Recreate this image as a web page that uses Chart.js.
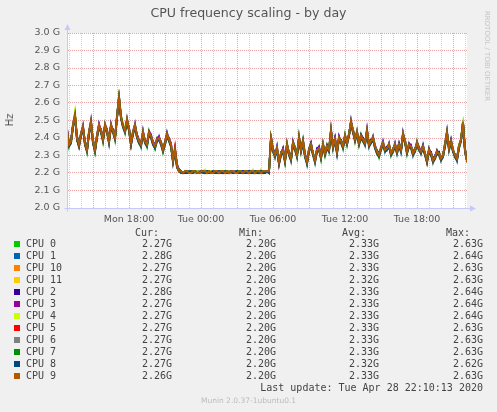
<!DOCTYPE html>
<html>
<head>
<meta charset="utf-8">
<script src="https://cdn.jsdelivr.net/npm/chart.js@4.4.1/dist/chart.umd.min.js"></script>
<style>
  body { margin: 0; background: #f0f0f0; }
  #wrap { position: relative; width: 497px; height: 412px; overflow: hidden; background: #f0f0f0; font-family: "DejaVu Sans", sans-serif; }
  #c { position: absolute; left: 0; top: 0; }
  .t { position: absolute; white-space: pre; line-height: 12px; }
  .mono { font-family: "DejaVu Sans Mono", monospace; font-size: 10px; color: #444; }
</style>
</head>
<body>
<div id="wrap"><canvas id="c" width="497" height="412"></canvas></div>
<script>
// munin cpu frequency graph — day view, 10 min samples from Mon 12:50 to Tue 22:10

/* ---------- DATA ---------- */
const seriesNames = ["CPU 0", "CPU 1", "CPU 10", "CPU 11", "CPU 2", "CPU 3", "CPU 4", "CPU 5", "CPU 6", "CPU 7", "CPU 8", "CPU 9"];
const seriesColors = ["#00cc00", "#0066b3", "#ff8000", "#ffcc00", "#330099", "#990099", "#ccff00", "#ff0000", "#808080", "#008f00", "#00487d", "#b35a00"];

const startHour = 12 + 50 / 60; // Mon 12:50, hours counted from Mon 00:00
const stepHours = 10 / 60;

// GHz, one row = 200 minutes
const cpu0 = [
  2.45,2.35,2.39,2.46,2.54,2.39,2.35,2.43,2.45,2.38,2.32,2.44,2.48,2.39,2.32,2.42,2.46,2.45,2.38,2.48,
  2.43,2.39,2.46,2.45,2.39,2.53,2.63,2.51,2.48,2.43,2.51,2.44,2.36,2.44,2.46,2.42,2.37,2.37,2.42,2.39,
  2.35,2.44,2.40,2.38,2.34,2.40,2.39,2.38,2.32,2.38,2.41,2.40,2.35,2.28,2.32,2.25,2.21,2.20,2.20,2.21,
  2.20,2.21,2.21,2.20,2.21,2.21,2.20,2.20,2.21,2.20,2.21,2.21,2.20,2.21,2.20,2.21,2.21,2.20,2.20,2.21,
  2.20,2.21,2.21,2.20,2.21,2.21,2.20,2.21,2.21,2.20,2.20,2.21,2.21,2.20,2.21,2.21,2.20,2.21,2.20,2.21,
  2.21,2.20,2.41,2.32,2.31,2.33,2.27,2.30,2.34,2.26,2.37,2.30,2.29,2.36,2.35,2.29,2.41,2.32,2.39,2.29,
  2.27,2.32,2.37,2.30,2.28,2.32,2.35,2.28,2.37,2.30,2.36,2.32,2.43,2.36,2.38,2.33,2.39,2.39,2.34,2.42,
  2.36,2.43,2.48,2.45,2.38,2.44,2.36,2.42,2.38,2.38,2.43,2.37,2.37,2.41,2.34,2.33,2.29,2.35,2.36,2.34,
  2.33,2.37,2.30,2.34,2.35,2.33,2.35,2.34,2.41,2.39,2.31,2.37,2.34,2.32,2.32,2.38,2.33,2.33,2.34,2.32,
  2.26,2.34,2.30,2.28,2.28,2.33,2.30,2.29,2.29,2.37,2.42,2.35,2.37,2.34,2.29,2.29,2.34,2.40,2.48,2.34,
  2.27];
const cpu1 = [
  2.43,2.37,2.37,2.48,2.52,2.41,2.37,2.41,2.47,2.36,2.34,2.42,2.50,2.37,2.34,2.40,2.48,2.43,2.40,2.46,
  2.45,2.37,2.48,2.43,2.41,2.51,2.64,2.53,2.46,2.45,2.49,2.46,2.38,2.42,2.48,2.40,2.39,2.35,2.44,2.37,
  2.37,2.42,2.42,2.36,2.36,2.38,2.41,2.36,2.34,2.36,2.43,2.38,2.37,2.26,2.34,2.23,2.22,2.21,2.20,2.20,
  2.21,2.21,2.20,2.21,2.20,2.21,2.21,2.20,2.21,2.21,2.21,2.20,2.21,2.21,2.20,2.20,2.21,2.21,2.20,2.21,
  2.21,2.21,2.20,2.21,2.21,2.21,2.20,2.20,2.21,2.21,2.20,2.21,2.20,2.21,2.21,2.20,2.21,2.21,2.21,2.20,
  2.20,2.22,2.39,2.34,2.29,2.35,2.25,2.32,2.32,2.28,2.35,2.32,2.27,2.38,2.33,2.31,2.39,2.34,2.37,2.31,
  2.25,2.34,2.35,2.32,2.26,2.34,2.33,2.30,2.35,2.32,2.34,2.34,2.45,2.34,2.40,2.31,2.41,2.37,2.36,2.40,
  2.38,2.41,2.50,2.43,2.40,2.42,2.38,2.40,2.40,2.36,2.45,2.35,2.39,2.39,2.36,2.31,2.31,2.33,2.38,2.32,
  2.35,2.35,2.32,2.32,2.37,2.31,2.37,2.32,2.43,2.37,2.33,2.35,2.36,2.30,2.34,2.36,2.35,2.31,2.36,2.30,
  2.28,2.32,2.32,2.26,2.30,2.31,2.32,2.27,2.31,2.35,2.44,2.33,2.39,2.32,2.31,2.27,2.36,2.38,2.50,2.32,
  2.28];
const cpu10 = [
  2.44,2.37,2.38,2.47,2.53,2.41,2.36,2.42,2.47,2.37,2.33,2.43,2.49,2.39,2.33,2.41,2.47,2.44,2.39,2.47,
  2.44,2.38,2.47,2.45,2.40,2.52,2.63,2.52,2.47,2.44,2.50,2.45,2.37,2.43,2.47,2.42,2.38,2.36,2.43,2.38,
  2.36,2.43,2.41,2.37,2.35,2.39,2.40,2.37,2.33,2.38,2.42,2.39,2.36,2.27,2.33,2.24,2.21,2.21,2.20,2.21,
  2.21,2.20,2.20,2.21,2.21,2.20,2.20,2.21,2.21,2.21,2.20,2.21,2.20,2.20,2.21,2.21,2.20,2.21,2.21,2.20,
  2.21,2.20,2.21,2.21,2.20,2.20,2.21,2.21,2.20,2.21,2.21,2.20,2.21,2.21,2.20,2.21,2.21,2.20,2.21,2.21,
  2.21,2.21,2.40,2.33,2.30,2.34,2.26,2.31,2.33,2.27,2.36,2.31,2.28,2.37,2.34,2.30,2.40,2.33,2.38,2.30,
  2.26,2.33,2.36,2.31,2.27,2.33,2.34,2.29,2.36,2.31,2.35,2.34,2.44,2.35,2.39,2.32,2.40,2.38,2.35,2.41,
  2.37,2.42,2.49,2.44,2.39,2.43,2.37,2.41,2.39,2.37,2.44,2.36,2.38,2.40,2.35,2.32,2.30,2.34,2.37,2.33,
  2.34,2.36,2.31,2.33,2.36,2.32,2.36,2.33,2.42,2.38,2.32,2.36,2.35,2.31,2.33,2.37,2.34,2.32,2.35,2.31,
  2.27,2.33,2.31,2.27,2.29,2.32,2.31,2.28,2.30,2.36,2.43,2.34,2.38,2.33,2.30,2.28,2.35,2.39,2.49,2.33,
  2.27];
const cpu11 = [
  2.43,2.35,2.37,2.46,2.52,2.39,2.35,2.41,2.45,2.36,2.32,2.42,2.48,2.37,2.32,2.40,2.46,2.43,2.38,2.46,
  2.43,2.37,2.46,2.43,2.39,2.51,2.63,2.51,2.46,2.43,2.49,2.44,2.36,2.42,2.46,2.40,2.37,2.35,2.42,2.37,
  2.35,2.42,2.40,2.36,2.34,2.38,2.39,2.36,2.32,2.36,2.41,2.38,2.35,2.26,2.32,2.23,2.21,2.20,2.20,2.20,
  2.20,2.20,2.21,2.20,2.20,2.21,2.20,2.20,2.21,2.20,2.20,2.21,2.20,2.20,2.21,2.20,2.20,2.21,2.20,2.20,
  2.21,2.20,2.20,2.21,2.20,2.20,2.21,2.20,2.20,2.21,2.20,2.20,2.21,2.20,2.20,2.21,2.20,2.22,2.20,2.21,
  2.20,2.21,2.39,2.32,2.29,2.33,2.25,2.30,2.32,2.26,2.35,2.30,2.27,2.36,2.33,2.29,2.39,2.32,2.37,2.29,
  2.25,2.32,2.35,2.30,2.26,2.32,2.33,2.28,2.35,2.30,2.34,2.32,2.43,2.34,2.38,2.31,2.39,2.37,2.34,2.40,
  2.36,2.41,2.48,2.43,2.38,2.42,2.36,2.40,2.38,2.36,2.43,2.35,2.37,2.39,2.34,2.31,2.29,2.33,2.36,2.32,
  2.33,2.35,2.30,2.32,2.35,2.31,2.35,2.32,2.41,2.37,2.31,2.35,2.34,2.30,2.32,2.36,2.33,2.31,2.34,2.30,
  2.26,2.32,2.30,2.26,2.28,2.31,2.30,2.27,2.29,2.35,2.42,2.33,2.37,2.32,2.29,2.27,2.34,2.40,2.48,2.32,
  2.27];
const cpu2 = [
  2.45,2.37,2.39,2.47,2.53,2.41,2.37,2.42,2.46,2.38,2.34,2.43,2.49,2.39,2.34,2.41,2.47,2.45,2.40,2.47,
  2.44,2.39,2.47,2.45,2.41,2.52,2.64,2.52,2.47,2.45,2.50,2.46,2.38,2.43,2.47,2.42,2.39,2.37,2.43,2.39,
  2.37,2.43,2.41,2.38,2.36,2.39,2.40,2.38,2.34,2.37,2.42,2.40,2.37,2.28,2.33,2.25,2.22,2.21,2.20,2.21,
  2.21,2.21,2.21,2.21,2.20,2.21,2.21,2.21,2.21,2.20,2.21,2.21,2.21,2.20,2.21,2.21,2.21,2.21,2.20,2.21,
  2.21,2.21,2.21,2.20,2.21,2.21,2.21,2.21,2.21,2.20,2.21,2.21,2.21,2.21,2.20,2.21,2.21,2.21,2.21,2.21,
  2.21,2.21,2.40,2.34,2.31,2.34,2.27,2.31,2.34,2.28,2.36,2.32,2.29,2.37,2.34,2.31,2.40,2.34,2.39,2.31,
  2.26,2.34,2.37,2.31,2.27,2.34,2.35,2.30,2.36,2.32,2.36,2.33,2.44,2.36,2.40,2.32,2.40,2.39,2.36,2.41,
  2.37,2.42,2.49,2.45,2.40,2.43,2.37,2.42,2.40,2.37,2.44,2.37,2.39,2.40,2.35,2.33,2.31,2.34,2.37,2.34,
  2.35,2.36,2.31,2.34,2.36,2.33,2.37,2.33,2.42,2.39,2.33,2.36,2.35,2.32,2.34,2.37,2.34,2.33,2.36,2.31,
  2.27,2.33,2.32,2.28,2.30,2.32,2.32,2.28,2.30,2.36,2.43,2.35,2.39,2.33,2.30,2.29,2.36,2.39,2.49,2.34,
  2.28];
const cpu3 = [
  2.46,2.36,2.38,2.48,2.54,2.40,2.36,2.43,2.47,2.37,2.33,2.44,2.50,2.38,2.33,2.42,2.48,2.44,2.39,2.48,
  2.45,2.38,2.48,2.44,2.40,2.53,2.64,2.52,2.48,2.44,2.51,2.45,2.37,2.44,2.48,2.41,2.38,2.36,2.44,2.38,
  2.36,2.44,2.42,2.37,2.35,2.40,2.41,2.37,2.33,2.38,2.43,2.39,2.36,2.27,2.34,2.24,2.22,2.21,2.20,2.21,
  2.21,2.20,2.21,2.21,2.21,2.20,2.21,2.21,2.21,2.21,2.20,2.21,2.21,2.21,2.21,2.21,2.20,2.21,2.21,2.21,
  2.21,2.21,2.21,2.21,2.20,2.21,2.21,2.21,2.21,2.21,2.21,2.20,2.21,2.21,2.21,2.21,2.21,2.21,2.20,2.21,
  2.21,2.21,2.41,2.33,2.30,2.35,2.26,2.31,2.34,2.27,2.37,2.31,2.28,2.38,2.35,2.30,2.41,2.33,2.38,2.30,
  2.26,2.33,2.37,2.31,2.27,2.33,2.35,2.29,2.37,2.31,2.35,2.33,2.45,2.35,2.40,2.32,2.41,2.38,2.35,2.42,
  2.38,2.42,2.50,2.44,2.39,2.44,2.38,2.41,2.39,2.37,2.45,2.36,2.38,2.41,2.36,2.32,2.30,2.35,2.38,2.33,
  2.34,2.37,2.31,2.33,2.37,2.32,2.36,2.33,2.43,2.38,2.32,2.37,2.36,2.31,2.33,2.38,2.35,2.32,2.35,2.31,
  2.27,2.34,2.31,2.27,2.29,2.33,2.31,2.28,2.30,2.37,2.44,2.34,2.38,2.33,2.30,2.28,2.36,2.39,2.49,2.33,
  2.27];
const cpu4 = [
  2.44,2.36,2.37,2.47,2.55,2.40,2.36,2.42,2.46,2.37,2.33,2.43,2.49,2.38,2.33,2.41,2.47,2.44,2.38,2.47,
  2.44,2.38,2.47,2.44,2.40,2.52,2.64,2.52,2.49,2.44,2.50,2.45,2.37,2.43,2.47,2.41,2.38,2.36,2.43,2.38,
  2.36,2.43,2.41,2.37,2.35,2.39,2.40,2.37,2.33,2.37,2.42,2.39,2.36,2.27,2.33,2.24,2.21,2.21,2.20,2.21,
  2.20,2.21,2.20,2.21,2.20,2.21,2.21,2.20,2.21,2.22,2.20,2.21,2.21,2.20,2.21,2.21,2.20,2.21,2.21,2.21,
  2.20,2.21,2.21,2.21,2.20,2.20,2.21,2.21,2.20,2.21,2.21,2.20,2.21,2.22,2.20,2.21,2.21,2.20,2.21,2.21,
  2.20,2.21,2.40,2.33,2.30,2.34,2.26,2.31,2.33,2.27,2.36,2.31,2.28,2.37,2.35,2.30,2.40,2.33,2.38,2.30,
  2.26,2.33,2.36,2.31,2.27,2.33,2.34,2.29,2.36,2.31,2.35,2.33,2.44,2.35,2.39,2.32,2.40,2.38,2.35,2.41,
  2.37,2.42,2.49,2.44,2.39,2.43,2.37,2.41,2.39,2.37,2.44,2.36,2.38,2.40,2.35,2.32,2.30,2.34,2.37,2.33,
  2.34,2.36,2.31,2.33,2.36,2.32,2.36,2.33,2.42,2.38,2.32,2.36,2.35,2.31,2.33,2.37,2.34,2.32,2.35,2.31,
  2.27,2.33,2.31,2.27,2.29,2.32,2.31,2.28,2.30,2.36,2.43,2.34,2.38,2.33,2.30,2.28,2.36,2.39,2.49,2.33,
  2.27];
const cpu5 = [
  2.44,2.36,2.38,2.47,2.53,2.39,2.35,2.42,2.46,2.36,2.33,2.43,2.49,2.37,2.33,2.41,2.47,2.44,2.39,2.47,
  2.44,2.38,2.47,2.44,2.40,2.52,2.63,2.52,2.47,2.44,2.50,2.45,2.36,2.43,2.47,2.41,2.38,2.36,2.43,2.38,
  2.36,2.43,2.41,2.37,2.35,2.39,2.40,2.37,2.33,2.37,2.42,2.39,2.36,2.27,2.35,2.24,2.21,2.21,2.20,2.21,
  2.21,2.20,2.20,2.21,2.21,2.20,2.20,2.21,2.21,2.21,2.20,2.21,2.20,2.20,2.21,2.21,2.20,2.21,2.21,2.20,
  2.21,2.20,2.21,2.21,2.20,2.20,2.21,2.21,2.20,2.21,2.21,2.20,2.21,2.21,2.20,2.21,2.21,2.20,2.21,2.21,
  2.21,2.21,2.40,2.33,2.30,2.34,2.25,2.31,2.33,2.27,2.36,2.31,2.28,2.37,2.34,2.30,2.40,2.33,2.38,2.30,
  2.26,2.33,2.36,2.31,2.27,2.33,2.34,2.29,2.36,2.31,2.35,2.33,2.44,2.35,2.39,2.32,2.40,2.38,2.35,2.41,
  2.37,2.42,2.49,2.44,2.39,2.43,2.37,2.41,2.39,2.37,2.44,2.36,2.38,2.40,2.35,2.32,2.30,2.34,2.37,2.33,
  2.34,2.36,2.31,2.33,2.36,2.32,2.36,2.33,2.42,2.38,2.32,2.36,2.35,2.31,2.33,2.37,2.34,2.32,2.35,2.31,
  2.26,2.33,2.31,2.27,2.29,2.32,2.31,2.28,2.30,2.36,2.43,2.34,2.38,2.33,2.30,2.28,2.35,2.39,2.49,2.33,
  2.27];
const cpu6 = [
  2.44,2.36,2.38,2.46,2.52,2.40,2.36,2.42,2.45,2.37,2.33,2.43,2.48,2.38,2.33,2.41,2.46,2.44,2.39,2.46,
  2.44,2.38,2.46,2.44,2.40,2.52,2.63,2.52,2.47,2.44,2.50,2.45,2.37,2.43,2.46,2.41,2.38,2.36,2.43,2.38,
  2.36,2.42,2.40,2.37,2.35,2.39,2.40,2.37,2.33,2.37,2.41,2.39,2.36,2.27,2.33,2.24,2.21,2.21,2.20,2.21,
  2.21,2.21,2.20,2.21,2.21,2.20,2.21,2.20,2.21,2.21,2.20,2.21,2.20,2.21,2.21,2.20,2.21,2.21,2.20,2.21,
  2.20,2.21,2.20,2.21,2.21,2.20,2.21,2.21,2.20,2.21,2.21,2.20,2.21,2.21,2.20,2.21,2.21,2.20,2.21,2.21,
  2.21,2.21,2.39,2.33,2.30,2.34,2.26,2.31,2.33,2.27,2.35,2.31,2.28,2.37,2.34,2.30,2.40,2.33,2.38,2.30,
  2.26,2.33,2.36,2.31,2.27,2.33,2.34,2.29,2.36,2.31,2.35,2.33,2.44,2.35,2.39,2.32,2.40,2.38,2.35,2.41,
  2.37,2.42,2.49,2.44,2.39,2.43,2.37,2.41,2.39,2.37,2.43,2.36,2.38,2.40,2.35,2.32,2.30,2.34,2.37,2.33,
  2.34,2.36,2.31,2.33,2.36,2.32,2.36,2.33,2.42,2.38,2.32,2.36,2.35,2.31,2.33,2.37,2.34,2.32,2.35,2.31,
  2.27,2.33,2.31,2.27,2.29,2.32,2.31,2.28,2.30,2.36,2.43,2.34,2.38,2.33,2.30,2.28,2.35,2.39,2.49,2.33,
  2.27];
const cpu7 = [
  2.43,2.36,2.38,2.47,2.53,2.40,2.36,2.42,2.46,2.37,2.34,2.43,2.49,2.38,2.33,2.41,2.46,2.44,2.39,2.47,
  2.44,2.38,2.47,2.44,2.40,2.52,2.63,2.52,2.47,2.44,2.50,2.45,2.37,2.43,2.47,2.41,2.37,2.36,2.43,2.38,
  2.36,2.43,2.41,2.37,2.34,2.39,2.40,2.37,2.33,2.37,2.42,2.39,2.35,2.27,2.33,2.24,2.21,2.21,2.20,2.21,
  2.20,2.20,2.21,2.21,2.21,2.20,2.20,2.21,2.21,2.20,2.21,2.21,2.20,2.20,2.21,2.20,2.21,2.21,2.20,2.21,
  2.21,2.20,2.21,2.20,2.20,2.21,2.21,2.21,2.20,2.21,2.21,2.20,2.21,2.20,2.21,2.21,2.20,2.21,2.21,2.20,
  2.21,2.21,2.40,2.33,2.31,2.34,2.26,2.31,2.33,2.27,2.36,2.31,2.28,2.37,2.35,2.30,2.40,2.33,2.38,2.30,
  2.26,2.33,2.36,2.31,2.28,2.33,2.34,2.29,2.36,2.31,2.35,2.33,2.44,2.35,2.39,2.32,2.40,2.38,2.35,2.41,
  2.37,2.42,2.49,2.44,2.39,2.43,2.37,2.41,2.39,2.37,2.44,2.36,2.38,2.40,2.35,2.32,2.30,2.34,2.37,2.33,
  2.34,2.36,2.31,2.33,2.36,2.32,2.36,2.33,2.42,2.38,2.32,2.36,2.35,2.31,2.33,2.37,2.34,2.32,2.35,2.31,
  2.27,2.33,2.31,2.27,2.29,2.32,2.31,2.28,2.30,2.36,2.43,2.34,2.38,2.33,2.30,2.28,2.35,2.39,2.49,2.33,
  2.27];
const cpu8 = [
  2.43,2.35,2.37,2.46,2.52,2.39,2.35,2.41,2.45,2.36,2.32,2.42,2.48,2.37,2.32,2.40,2.46,2.43,2.38,2.46,
  2.43,2.37,2.46,2.43,2.39,2.51,2.62,2.51,2.46,2.43,2.49,2.44,2.36,2.42,2.46,2.40,2.37,2.35,2.42,2.37,
  2.35,2.42,2.40,2.36,2.34,2.38,2.39,2.36,2.32,2.36,2.41,2.38,2.35,2.26,2.32,2.23,2.21,2.20,2.20,2.20,
  2.20,2.21,2.20,2.20,2.21,2.20,2.20,2.21,2.20,2.20,2.21,2.20,2.20,2.21,2.20,2.20,2.21,2.20,2.20,2.21,
  2.20,2.20,2.21,2.20,2.20,2.21,2.20,2.20,2.21,2.20,2.20,2.21,2.20,2.20,2.21,2.20,2.20,2.21,2.20,2.20,
  2.21,2.20,2.39,2.32,2.29,2.33,2.25,2.30,2.32,2.26,2.35,2.30,2.27,2.36,2.33,2.29,2.39,2.32,2.37,2.29,
  2.25,2.32,2.35,2.30,2.26,2.32,2.33,2.28,2.35,2.30,2.34,2.32,2.43,2.34,2.38,2.31,2.39,2.37,2.34,2.40,
  2.36,2.41,2.48,2.43,2.38,2.42,2.36,2.40,2.38,2.36,2.43,2.35,2.37,2.39,2.34,2.31,2.29,2.33,2.36,2.32,
  2.33,2.35,2.30,2.32,2.35,2.31,2.35,2.32,2.41,2.37,2.31,2.35,2.34,2.30,2.32,2.36,2.33,2.31,2.34,2.30,
  2.26,2.32,2.30,2.26,2.28,2.31,2.30,2.27,2.29,2.35,2.42,2.33,2.37,2.32,2.29,2.27,2.34,2.38,2.48,2.32,
  2.27];
const cpu9 = [
  2.44,2.36,2.38,2.47,2.53,2.40,2.36,2.42,2.46,2.37,2.33,2.43,2.49,2.38,2.33,2.41,2.47,2.44,2.39,2.47,
  2.44,2.38,2.47,2.44,2.40,2.52,2.63,2.52,2.47,2.44,2.50,2.45,2.37,2.43,2.47,2.41,2.38,2.36,2.43,2.38,
  2.36,2.43,2.41,2.37,2.35,2.39,2.40,2.37,2.33,2.37,2.42,2.39,2.36,2.27,2.33,2.24,2.21,2.21,2.20,2.21,
  2.21,2.20,2.20,2.21,2.21,2.20,2.20,2.21,2.21,2.21,2.20,2.21,2.20,2.20,2.21,2.21,2.20,2.21,2.21,2.20,
  2.21,2.20,2.21,2.21,2.20,2.20,2.21,2.21,2.20,2.21,2.21,2.20,2.21,2.21,2.20,2.21,2.21,2.20,2.21,2.21,
  2.21,2.21,2.40,2.33,2.30,2.34,2.26,2.31,2.33,2.27,2.36,2.31,2.28,2.37,2.34,2.30,2.40,2.33,2.38,2.30,
  2.26,2.33,2.36,2.31,2.27,2.33,2.34,2.29,2.36,2.31,2.35,2.33,2.44,2.35,2.39,2.32,2.40,2.38,2.35,2.41,
  2.37,2.42,2.49,2.44,2.39,2.43,2.37,2.41,2.39,2.37,2.44,2.36,2.38,2.40,2.35,2.32,2.30,2.34,2.37,2.33,
  2.34,2.36,2.31,2.33,2.36,2.32,2.36,2.33,2.42,2.38,2.32,2.36,2.35,2.31,2.33,2.37,2.34,2.32,2.35,2.31,
  2.27,2.33,2.31,2.27,2.29,2.32,2.31,2.28,2.30,2.36,2.43,2.34,2.38,2.33,2.30,2.28,2.35,2.39,2.49,2.33,
  2.26];
const seriesValues = [cpu0, cpu1, cpu10, cpu11, cpu2, cpu3, cpu4, cpu5, cpu6, cpu7, cpu8, cpu9];

// legend stats as printed by munin
const curText = ["2.27G", "2.28G", "2.27G", "2.27G", "2.28G", "2.27G", "2.27G", "2.27G", "2.27G", "2.27G", "2.27G", "2.26G"];
const minText = ["2.20G", "2.20G", "2.20G", "2.20G", "2.20G", "2.20G", "2.20G", "2.20G", "2.20G", "2.20G", "2.20G", "2.20G"];
const avgText = ["2.33G", "2.33G", "2.33G", "2.32G", "2.33G", "2.33G", "2.33G", "2.33G", "2.33G", "2.33G", "2.32G", "2.33G"];
const maxText = ["2.63G", "2.64G", "2.63G", "2.63G", "2.64G", "2.64G", "2.64G", "2.63G", "2.63G", "2.63G", "2.62G", "2.63G"];

const yMin = 2.0, yMax = 3.0, yStep = 0.1;
const xLabelEvery = 6; // hours
const xMajorEvery = 3; // hours

/* ---------- TEXT ---------- */
const wrap = document.getElementById("wrap");
function addText(txt, css, cls) {
  const d = document.createElement("div");
  d.className = "t " + (cls || "");
  d.textContent = txt;
  Object.assign(d.style, css);
  wrap.append(d);
  return d;
}

addText("CPU frequency scaling - by day", { left: "0px", width: "497px", textAlign: "center", top: "6px", fontSize: "12.6px", color: "#555", lineHeight: "14px" });
addText("Hz", { left: "10px", top: "120px", fontSize: "10px", color: "#555", transform: "translate(-50%,-50%) rotate(-90deg)" });
addText("RRDTOOL / TOBI OETIKER", { left: "487px", top: "56px", fontSize: "7px", color: "#c4c4c4", transform: "translate(-50%,-50%) rotate(90deg)" });

const colRight = [172, 276, 379, 483];
const headRight = [159, 263, 366, 470];
["Cur:", "Min:", "Avg:", "Max:"].forEach((h, k) => {
  addText(h, { right: (497 - headRight[k]) + "px", top: (233 - 6) + "px" }, "mono");
});
seriesNames.forEach((name, i) => {
  const cy = 244 + i * 12;
  const sw = document.createElement("div");
  Object.assign(sw.style, { position: "absolute", left: "14px", top: (cy - 3) + "px", width: "6px", height: "6px", background: seriesColors[i] });
  wrap.append(sw);
  addText(name, { left: "26px", top: (cy - 6) + "px" }, "mono");
  [curText, minText, avgText, maxText].forEach((col, k) => {
    addText(col[i], { right: (497 - colRight[k]) + "px", top: (cy - 6) + "px" }, "mono");
  });
});
addText("Last update: Tue Apr 28 22:10:13 2020", { right: "14px", top: (388 - 6) + "px" }, "mono");
addText("Munin 2.0.37-1ubuntu0.1", { left: "0px", width: "497px", textAlign: "center", top: "395px", fontSize: "7.5px", color: "#bbb" });

/* ---------- CHART ---------- */
const axisColor = "#c8c8f8";
const redGrid = "#e8a4a4";
const greyGrid = "#d2d2d2";

const decor = {
  id: "decor",
  beforeDraw(chart) {
    const a = chart.chartArea, ctx = chart.ctx;
    ctx.save();
    ctx.fillStyle = "#ffffff";
    ctx.fillRect(a.left, a.top, a.right - a.left, a.bottom - a.top);
    ctx.restore();
  },
  afterDraw(chart) {
    const a = chart.chartArea, ctx = chart.ctx;
    const x0 = Math.round(a.left) + 0.5, y0 = Math.round(a.bottom) + 0.5;
    ctx.save();
    ctx.strokeStyle = axisColor;
    ctx.fillStyle = axisColor;
    ctx.lineWidth = 1;
    ctx.beginPath();
    ctx.moveTo(x0, y0 + 3); ctx.lineTo(x0, a.top - 4);
    ctx.moveTo(x0 - 3, y0); ctx.lineTo(a.right + 4, y0);
    ctx.stroke();
    ctx.beginPath();
    ctx.moveTo(x0 - 3, a.top - 3); ctx.lineTo(x0 + 3, a.top - 3); ctx.lineTo(x0, a.top - 9); ctx.closePath();
    ctx.moveTo(a.right + 3, y0 - 3); ctx.lineTo(a.right + 3, y0 + 3); ctx.lineTo(a.right + 9, y0); ctx.closePath();
    ctx.fill();
    ctx.restore();
  },
};

const endHour = startHour + (cpu9.length - 1) * stepHours;
const gridHours = [];
for (let h = Math.ceil(startHour); h <= endHour; h++) gridHours.push(h);

const datasets = seriesValues.map((vals, i) => ({
  label: seriesNames[i],
  data: vals.map((v, j) => ({ x: startHour + j * stepHours, y: v })),
  borderColor: seriesColors[i],
  borderWidth: 1.8,
  pointRadius: 0,
  tension: 0,
  fill: false,
  order: seriesValues.length - i,
}));

new Chart(document.getElementById("c").getContext("2d"), {
  type: "line",
  data: { datasets },
  plugins: [decor],
  options: {
    responsive: false,
    animation: false,
    devicePixelRatio: 1,
    layout: { padding: { top: 33, left: 0, right: 30, bottom: 184 } },
    plugins: { legend: { display: false }, tooltip: { enabled: false } },
    scales: {
      x: {
        type: "linear",
        min: startHour,
        max: endHour,
        afterBuildTicks: (s) => { s.ticks = gridHours.map((v) => ({ value: v })); },
        afterFit: (s) => { s.height = 20; },
        grid: {
          color: (c) => (c.tick && c.tick.value % xMajorEvery === 0 ? redGrid : greyGrid),
          drawTicks: false,
        },
        border: { display: true, color: axisColor, dash: [1, 1] },
        ticks: {
          autoSkip: false,
          maxRotation: 0,
          padding: 6,
          color: "#555",
          font: { family: "DejaVu Sans", size: 9.5 },
          callback: (v) => {
            if (v % xLabelEvery !== 0) return "";
            const day = v < 24 ? "Mon" : "Tue";
            return day + " " + String(v % 24).padStart(2, "0") + ":00";
          },
        },
      },
      y: {
        min: yMin,
        max: yMax,
        afterFit: (s) => { s.width = 67; },
        grid: { color: redGrid, drawTicks: false },
        border: { display: true, color: axisColor, dash: [1, 1] },
        ticks: {
          stepSize: yStep,
          padding: 7,
          color: "#555",
          font: { family: "DejaVu Sans", size: 9.5 },
          callback: (v) => Number(v).toFixed(1) + " G",
        },
      },
    },
  },
});
</script>
</body>
</html>
